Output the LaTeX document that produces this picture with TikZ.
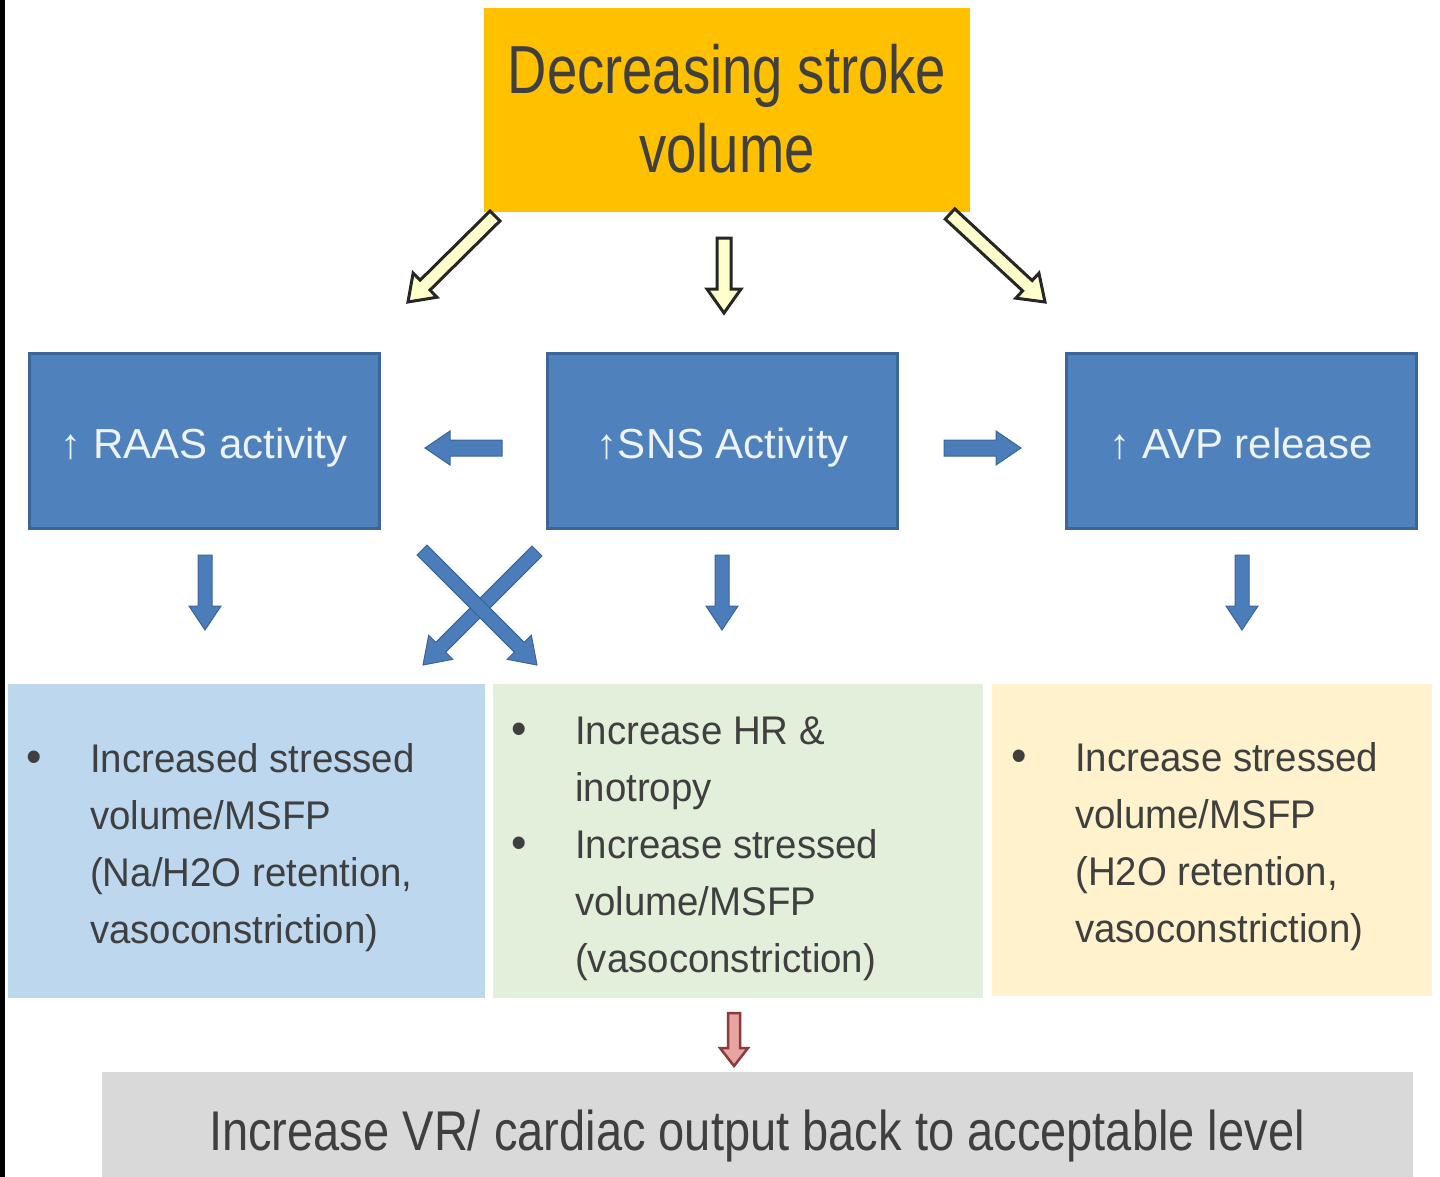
\documentclass[tikz,border=0pt]{standalone}
\usepackage{fontspec}
\setmainfont{Liberation Sans}
\newfontfamily\titlefont[FakeStretch=0.80]{Liberation Sans}
\newfontfamily\botfont[FakeStretch=0.84]{Liberation Sans}
\newfontfamily\bulfont[FakeStretch=0.96]{Liberation Sans}
\definecolor{orangebox}{HTML}{FFC000}
\definecolor{arrowyellow}{HTML}{FFFFCC}
\definecolor{bluebox}{HTML}{4F81BD}
\definecolor{blueedge}{HTML}{3C6699}
\definecolor{bluearrow}{HTML}{4A7DBA}
\definecolor{lightblue}{HTML}{BDD7EE}
\definecolor{lightgreen}{HTML}{E2EFDA}
\definecolor{lightyellow}{HTML}{FFF2CC}
\definecolor{graybox}{HTML}{D9D9D9}
\definecolor{darktext}{HTML}{3F3F3F}
\definecolor{bluetext}{HTML}{EEF3FA}
\definecolor{pinkarrow}{HTML}{E8A3A3}
\definecolor{rededge}{HTML}{8C3B3B}
% block arrow: style, x1, y1, x2, y2, shaft half width, head half width, head length
\newcommand{\blockarrow}[8]{%
  \pgfmathsetmacro\baDX{#4-#2}\pgfmathsetmacro\baDY{#5-#3}%
  \pgfmathsetmacro\baLen{veclen(\baDX,\baDY)}%
  \pgfmathsetmacro\baUX{\baDX/\baLen}\pgfmathsetmacro\baUY{\baDY/\baLen}%
  \pgfmathsetmacro\baNX{-\baUY}\pgfmathsetmacro\baNY{\baUX}%
  \draw[#1] ({#2+#6*\baNX},{#3+#6*\baNY})
    -- ({#4-#8*\baUX+#6*\baNX},{#5-#8*\baUY+#6*\baNY})
    -- ({#4-#8*\baUX+#7*\baNX},{#5-#8*\baUY+#7*\baNY})
    -- (#4,#5)
    -- ({#4-#8*\baUX-#7*\baNX},{#5-#8*\baUY-#7*\baNY})
    -- ({#4-#8*\baUX-#6*\baNX},{#5-#8*\baUY-#6*\baNY})
    -- ({#2-#6*\baNX},{#3-#6*\baNY}) -- cycle;}
\newcommand{\bulletmark}{{\fontsize{46}{57}\selectfont •}}
\begin{document}
\begin{tikzpicture}[x=1pt,y=-1pt,
  plainbox/.style={rectangle, inner sep=0pt, outer sep=0pt},
  bluenode/.style={plainbox, fill=bluebox, draw=blueedge, line width=3pt,
    minimum width=350pt, minimum height=175pt},
  bluelabel/.style={inner sep=0pt, anchor=base, text=bluetext,
    font=\fontsize{42}{50}\selectfont},
  bullettext/.style={inner sep=0pt, anchor=base west, text=darktext,
    font=\bulfont\fontsize{40}{57}\selectfont},
  hollowarrow/.style={fill=arrowyellow, draw=black!85, line width=3pt, line join=miter},
  bluearr/.style={fill=bluearrow, draw=blueedge, line width=1pt, line join=miter},
  redarr/.style={fill=pinkarrow, draw=rededge, line width=2.5pt, line join=miter}]
\useasboundingbox (0,0) rectangle (1440,1177);
\fill[white] (0,0) rectangle (1440,1177);
\fill[black] (0,0) rectangle (5,1177);

% top box
\node[plainbox, fill=orangebox, minimum width=486pt, minimum height=204pt] (top) at (727,110) {};
\node[inner sep=0pt, anchor=base, text=darktext, align=center,
  font=\titlefont\fontsize{68}{79}\selectfont] (toptext) at (727,173) {Decreasing stroke\\volume};

% hollow arrows
\blockarrow{hollowarrow}{495}{216}{408}{302}{7}{17}{24}
\blockarrow{hollowarrow}{724}{238}{724}{313}{7}{17}{24}
\blockarrow{hollowarrow}{950}{214}{1045}{302}{7}{17}{24}

% blue boxes
\node[bluenode] (raas) at (204,440.5) {};
\node[bluenode] (sns) at (722.5,440.5) {};
\node[bluenode] (avp) at (1241.5,440.5) {};
\node[bluelabel] (raastext) at (204,458) {↑ RAAS activity};
\node[bluelabel] (snstext) at (723,458) {↑SNS Activity};
\node[bluelabel] (avptext) at (1241,458) {↑ AVP release};

% horizontal blue arrows
\blockarrow{bluearr}{502}{448}{425}{448}{8}{17}{25}
\blockarrow{bluearr}{944}{448}{1021}{448}{8}{17}{25}
% down blue arrows
\blockarrow{bluearr}{205}{555}{205}{630}{7}{16}{24}
\blockarrow{bluearr}{722}{555}{722}{630}{7}{16}{24}
\blockarrow{bluearr}{1242}{555}{1242}{630}{7}{16}{24}
% crossing arrows
\blockarrow{bluearr}{537}{551}{423}{665}{7}{17}{25}
\blockarrow{bluearr}{422}{550}{537}{665}{7}{17}{25}

% bottom boxes
\node[plainbox, fill=lightblue, minimum width=477pt, minimum height=314pt] (left) at (246.5,841) {};
\node[plainbox, fill=lightgreen, minimum width=490pt, minimum height=314pt] (mid) at (738,841) {};
\node[plainbox, fill=lightyellow, minimum width=440pt, minimum height=312pt] (right) at (1212,840) {};

\node[bullettext] (lefttext) at (26,772) {\begin{tabular}[t]{@{}p{64pt}@{}l@{}}
\bulletmark & Increased stressed\\
 & volume/MSFP\\
 & (Na/H2O retention,\\
 & vasoconstriction)
\end{tabular}};
\node[bullettext] (midtext) at (511,744) {\begin{tabular}[t]{@{}p{64pt}@{}l@{}}
\bulletmark & Increase HR \&\\
 & inotropy\\
\bulletmark & Increase stressed\\
 & volume/MSFP\\
 & (vasoconstriction)
\end{tabular}};
\node[bullettext] (righttext) at (1011,771) {\begin{tabular}[t]{@{}p{64pt}@{}l@{}}
\bulletmark & Increase stressed\\
 & volume/MSFP\\
 & (H2O retention,\\
 & vasoconstriction)
\end{tabular}};

% red arrow
\blockarrow{redarr}{734}{1013}{734}{1066}{6}{14}{18}

% bottom gray box
\node[plainbox, fill=graybox, minimum width=1311pt, minimum height=110pt] (result) at (757.5,1127) {};
\node[inner sep=0pt, anchor=base, text=darktext,
  font=\botfont\fontsize{56}{64}\selectfont] (resulttext) at (757,1150) {Increase VR/ cardiac output back to acceptable level};
\end{tikzpicture}
\end{document}
